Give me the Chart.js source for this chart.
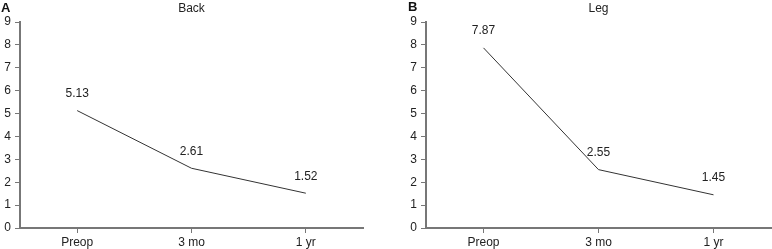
<!DOCTYPE html>
<html><head><meta charset="utf-8">
<script src="https://cdn.jsdelivr.net/npm/chart.js@4/dist/chart.umd.min.js"></script>
<style>
html,body{margin:0;padding:0;background:#fff;}
#wrap{position:relative;width:772px;height:249px;overflow:hidden;background:#fff;}
canvas{position:absolute;top:0;}
.lab{position:absolute;font:bold 13px "Liberation Sans",Arial,sans-serif;color:#111;line-height:15px;}
</style></head><body>
<div id="wrap">
<canvas id="cA" width="386" height="249" style="left:0"></canvas>
<canvas id="cB" width="386" height="249" style="left:386px"></canvas>
<div class="lab" style="left:1px;top:0px">A</div>
<div class="lab" style="left:408px;top:-1px">B</div>
</div>
<script>
const categories = ['Preop', '3 mo', '1 yr'];
const backValues = [5.13, 2.61, 1.52];
const legValues = [7.87, 2.55, 1.45];
const yMin = 0;
const yMax = 9;
const yStep = 1;
const panelTitles = ['Back', 'Leg'];

const FONT = '"Liberation Sans", Arial, sans-serif';
const AXIS_COLOR = '#777';
const TEXT_COLOR = '#222';

const valueLabels = {
  id: 'valueLabels',
  afterDatasetsDraw(chart) {
    const ctx = chart.ctx;
    const meta = chart.getDatasetMeta(0);
    const data = chart.data.datasets[0].data;
    ctx.save();
    ctx.font = '12px ' + FONT;
    ctx.fillStyle = TEXT_COLOR;
    ctx.textAlign = 'center';
    ctx.textBaseline = 'middle';
    meta.data.forEach((pt, i) => {
      ctx.fillText(data[i].toFixed(2), pt.x, pt.y - 17);
    });
    ctx.restore();
  }
};

function makeChart(id, values, title, padLeft, padRight) {
  return new Chart(document.getElementById(id), {
    type: 'line',
    data: {
      labels: categories,
      datasets: [{
        data: values,
        borderColor: '#333',
        borderWidth: 1,
        pointRadius: 0,
        tension: 0,
        fill: false
      }]
    },
    options: {
      responsive: false,
      animation: false,
      devicePixelRatio: 1,
      layout: { padding: { left: padLeft, right: padRight, top: 0, bottom: 0 } },
      plugins: {
        legend: { display: false },
        tooltip: { enabled: false },
        title: {
          display: true,
          text: title,
          fullSize: false,
          color: TEXT_COLOR,
          font: { family: FONT, size: 12, weight: 'normal', lineHeight: 1.2 },
          padding: { top: 1, bottom: 6.6 }
        }
      },
      scales: {
        x: {
          offset: true,
          grid: { offset: false, drawOnChartArea: false, drawTicks: true, tickLength: 5, color: AXIS_COLOR, lineWidth: 1 },
          border: { display: true, color: AXIS_COLOR, width: 2 },
          ticks: { color: TEXT_COLOR, font: { family: FONT, size: 12 }, padding: 2, maxRotation: 0 },
          afterFit(scale) { scale.height = 21; }
        },
        y: {
          min: yMin,
          max: yMax,
          grid: { drawOnChartArea: false, drawTicks: true, tickLength: 5, color: AXIS_COLOR, lineWidth: 1 },
          border: { display: true, color: AXIS_COLOR, width: 2 },
          ticks: { stepSize: yStep, color: TEXT_COLOR, font: { family: FONT, size: 12 }, padding: 4 },
          afterFit(scale) { scale.width = 20; }
        }
      }
    },
    plugins: [valueLabels]
  });
}

makeChart('cA', backValues, panelTitles[0], 0, 23);
makeChart('cB', legValues, panelTitles[1], 20, 1);
</script>
</body></html>
